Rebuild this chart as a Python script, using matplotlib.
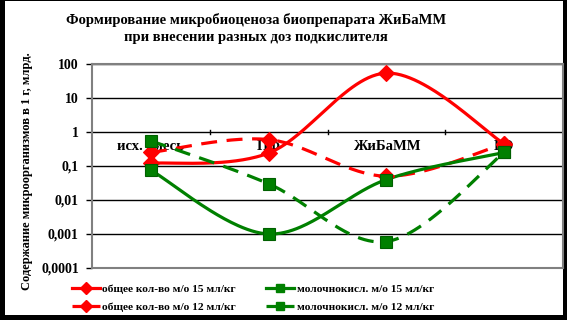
import numpy as np
import matplotlib
matplotlib.use("Agg")
import matplotlib.pyplot as plt
from matplotlib.patches import Rectangle
from matplotlib.lines import Line2D

categories = ["исх. смесь", "ПФ", "ЖиБаММ", "ГО"]
total_15 = [0.12, 0.24, 54, 0.45]
total_12 = [0.25, 0.6, 0.05, 0.45]
lactic_15 = [0.075, 0.001, 0.04, 0.25]
lactic_12 = [0.55, 0.03, 0.0006, 0.25]
labels = ["общее кол-во м/о 15 мл/кг", "общее кол-во м/о 12 мл/кг",
          "молочнокисл. м/о 15 мл/кг", "молочнокисл. м/о 12 мл/кг"]
ytick_vals = [0.0001, 0.001, 0.01, 0.1, 1, 10, 100]
ytick_labels = ["0,0001", "0,001", "0,01", "0,1", "1", "10", "100"]

SERIF = ["Liberation Serif", "DejaVu Serif"]
plt.rcParams["font.family"] = SERIF
plt.rcParams["font.weight"] = "bold"

W, H = 567, 320
fig = plt.figure(figsize=(W / 100, H / 100), dpi=100, facecolor="black")
bg = fig.add_axes([5 / W, 5 / H, (W - 9) / W, (H - 6) / H])
bg.set_axis_off()
bg.add_patch(Rectangle((0, 0), 1, 1, transform=bg.transAxes,
                       facecolor="white", edgecolor="none"))
bg.set_zorder(0)

ax = fig.add_axes([92 / W, (H - 268) / H, (563 - 92) / W, (268 - 64) / H])
ax.set_zorder(1)
ax.set_facecolor("white")
ax.set_yscale("log")
ax.set_ylim(1e-4, 1e2)
ax.set_xlim(-0.5, len(categories) - 0.5)
for v in ytick_vals:
    ax.axhline(v, color="black", lw=1.0, zorder=1)
for s in ax.spines.values():
    s.set_color("#808080")
    s.set_linewidth(1.5)
ax.set_yticks(ytick_vals)
ax.set_yticklabels(ytick_labels, fontsize=10, fontweight="bold")
ax.yaxis.set_minor_locator(matplotlib.ticker.NullLocator())
ax.tick_params(axis="y", length=4.5, width=1, color="black", pad=5)
ax.set_xticks([])

# category axis crossing at 1
for b in np.arange(0.5, len(categories) - 0.5, 1.0):
    ax.plot([b, b], [10 ** -0.06, 10 ** 0.06], color="black", lw=1, zorder=2)
for i, c in enumerate(categories):
    ax.text(i, 10 ** -0.44, c, ha="center", va="center", fontsize=10.5,
            fontweight="bold", zorder=3)


def smooth(xs, ys, n=60):
    P = np.column_stack([xs, np.log10(ys)])
    out = []
    for i in range(len(P) - 1):
        p0 = P[i - 1] if i > 0 else P[i]
        p3 = P[i + 2] if i + 2 < len(P) else P[i + 1]
        c1 = P[i] + (P[i + 1] - p0) / 6
        c2 = P[i + 1] - (p3 - P[i]) / 6
        t = np.linspace(0, 1, n)[:, None]
        seg = ((1 - t) ** 3 * P[i] + 3 * (1 - t) ** 2 * t * c1
               + 3 * (1 - t) * t ** 2 * c2 + t ** 3 * P[i + 1])
        out.append(seg if i == 0 else seg[1:])
    pts = np.vstack(out)
    return pts[:, 0], 10 ** pts[:, 1]


x = np.arange(len(categories))
RED = "#FF0000"
GREEN = "#008000"
series = [
    (total_15, RED, "-", "D", labels[0]),
    (total_12, RED, (0, (5, 3)), "D", labels[1]),
    (lactic_15, GREEN, "-", "s", labels[2]),
    (lactic_12, GREEN, (0, (5, 3)), "s", labels[3]),
]
handles = []
for vals, col, ls, mk, lab in series:
    sx, sy = smooth(x, vals)
    ax.plot(sx, sy, color=col, lw=2.3, ls=ls, zorder=4, solid_capstyle="butt",
            dash_capstyle="butt")
    ax.plot(x, vals, ls="none", marker=mk, ms=8 if mk == "D" else 9,
            mfc=col, mec="#006000" if col == GREEN else RED, mew=0.8, zorder=5)
    hls = "-" if ls == "-" else (0, (3.5, 1.8))
    handles.append(Line2D([], [], color=col, lw=2.3, ls=hls, marker=mk,
                          ms=6, mfc=col, mec=col))

fig.legend(handles, labels, ncol=2, loc="upper left",
           bbox_to_anchor=(66 / W, 1 - 278 / H), frameon=False,
           prop={"family": SERIF, "weight": "bold", "size": 8.2},
           handlelength=2.5, handletextpad=0.2, columnspacing=2.6,
           labelspacing=0.7, borderpad=0)

fig.text(256 / W, 1 - 20 / H, "Формирование микробиоценоза биопрепарата ЖиБаММ",
         ha="center", va="center", fontsize=10.5, fontweight="bold")
fig.text(256 / W, 1 - 38 / H, "при внесении разных доз подкислителя",
         ha="center", va="center", fontsize=10.5, fontweight="bold")
fig.text(27 / W, 1 - 171 / H, "Содержание микроорганизмов в 1 г, млрд.",
         ha="center", va="center", rotation=90, fontsize=9, fontweight="bold")

fig.savefig("out.png", dpi=100, facecolor=fig.get_facecolor())
